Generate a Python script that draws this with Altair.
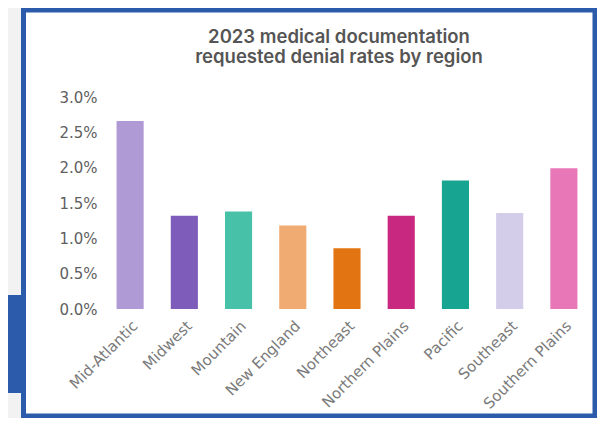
import altair as alt
import pandas as pd

regions = ["Mid-Atlantic", "Midwest", "Mountain", "New England", "Northeast",
           "Northern Plains", "Pacific", "Southeast", "Southern Plains"]
rates = [0.0266, 0.0132, 0.0138, 0.0118, 0.0086, 0.0132, 0.0182, 0.0136, 0.0199]
colors = ["#B09AD6", "#7D5CBA", "#47C2A9", "#F0AB73", "#E27512",
          "#C8287F", "#17A591", "#D4CDE9", "#E877B7"]
y_ticks = [0.0, 0.005, 0.01, 0.015, 0.02, 0.025, 0.03]
title_lines = ["2023 medical documentation", "requested denial rates by region"]

df = pd.DataFrame({"region": regions, "rate": rates})
one = pd.DataFrame({"k": [0]})

frame = alt.Chart(one).mark_rect(fill="white", stroke="#2B5BAA", strokeWidth=5).encode(
    x=alt.value(-79.5), x2=alt.value(492), y=alt.value(-87), y2=alt.value(319)
)
side_box = alt.Chart(one).mark_rect(fill="#2B5BAA").encode(
    x=alt.value(-96), x2=alt.value(-82), y=alt.value(198), y2=alt.value(296)
)
title1 = alt.Chart(one).mark_text(font="Inter", fontSize=18.5, fontWeight=600,
                                  color="#555555", align="center", baseline="middle").encode(
    x=alt.value(236), y=alt.value(-60), text=alt.value(title_lines[0])
)
title2 = alt.Chart(one).mark_text(font="Inter", fontSize=18.5, fontWeight=600,
                                  color="#555555", align="center", baseline="middle").encode(
    x=alt.value(236), y=alt.value(-40), text=alt.value(title_lines[1])
)

bars = alt.Chart(df).mark_bar().encode(
    x=alt.X("region:N", sort=regions,
            scale=alt.Scale(paddingInner=0.5, paddingOuter=0.25),
            axis=alt.Axis(title=None, labelAngle=-45, labelAlign="right",
                          labelBaseline="top", ticks=False, domain=False,
                          labelPadding=9, labelFont="DejaVu Sans", labelFontSize=15,
                          labelColor="#7a7a7a", zindex=2)),
    y=alt.Y("rate:Q", scale=alt.Scale(domain=[0, 0.03], nice=False),
            axis=alt.Axis(title=None, format=".1%", values=y_ticks, grid=False,
                          ticks=False, domain=False, labelPadding=6,
                          labelFont="DejaVu Sans", labelFontSize=15,
                          labelColor="#5f5f5f", zindex=2)),
    color=alt.Color("region:N", sort=regions,
                    scale=alt.Scale(domain=regions, range=colors), legend=None),
)

chart = alt.layer(frame, side_box, title1, title2, bars).properties(
    width=488, height=212,
    autosize=alt.AutoSizeParams(type="none"),
    padding={"left": 95, "top": 89, "right": 6, "bottom": 109},
    background="#F2F2F2",
).configure_view(stroke=None)

chart.save("out.html", embed_options={"renderer": "svg", "actions": False})
